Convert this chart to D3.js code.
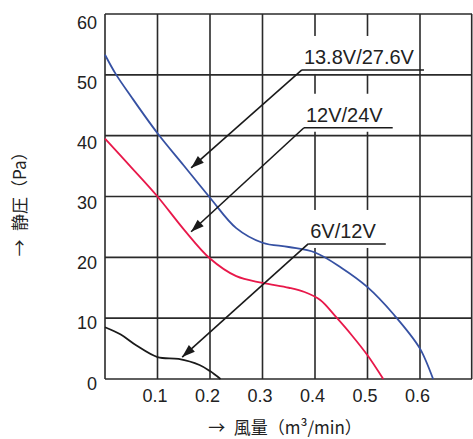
<!DOCTYPE html>
<html><head><meta charset="utf-8">
<script src="https://cdn.jsdelivr.net/npm/d3@7/dist/d3.min.js"></script>
<style>
html,body{margin:0;padding:0;background:#fff;}
svg{display:block;}
text{font-family:"Liberation Sans",Arial,sans-serif;fill:#222;}
.cjk{font-family:"Noto Sans CJK JP",sans-serif;}
</style></head>
<body><svg id="c" width="473" height="439"></svg>
<script>
// ---- data ----
const xTicks = [0.1, 0.2, 0.3, 0.4, 0.5, 0.6];
const xTickLabels = ["0.1", "0.2", "0.3", "0.4", "0.5", "0.6"];
const yTicks = [0, 10, 20, 30, 40, 50, 60];
const yTickLabels = ["0", "10", "20", "30", "40", "50", "60"];
const seriesNames = ["13.8V/27.6V", "12V/24V", "6V/12V"];
const flow138 = [0, 0.02, 0.05, 0.10, 0.15, 0.20, 0.25, 0.30, 0.35, 0.40, 0.45, 0.50, 0.55, 0.60, 0.625];
const pres138 = [53.3, 50.2, 46.4, 40.4, 35.1, 29.8, 24.8, 22.4, 21.7, 20.8, 18.3, 15.1, 10.6, 5.0, 0];
const flow12 = [0, 0.05, 0.10, 0.15, 0.20, 0.25, 0.30, 0.35, 0.38, 0.41, 0.44, 0.47, 0.50, 0.53];
const pres12 = [39.5, 34.8, 30.0, 24.6, 19.8, 16.9, 15.8, 15.0, 14.3, 13.0, 10.2, 7.2, 3.9, 0];
const flow6 = [0, 0.03, 0.06, 0.10, 0.14, 0.18, 0.20, 0.22];
const pres6 = [8.5, 7.3, 5.5, 3.6, 3.3, 2.3, 1.3, 0];
// annotation arrow tips and leader corners (data units)
const tipFlow = [0.164, 0.164, 0.147];
const tipPres = [34.7, 24.2, 3.6];
const cornerFlow = [0.375, 0.379, 0.387];
const cornerPres = [50.8, 41.3, 22.2];
const yTitle = "→\u2002静圧（Pa）";
const xTitle = "→\u2002風量（m³/min）";

// ---- drawing ----
const svg = d3.select("#c");
const x = d3.scaleLinear().domain([0, 0.7]).range([105, 472.5]);
const y = d3.scaleLinear().domain([0, 60]).range([379, 14]);

const grid = svg.append("g").attr("stroke", "#2a2a2a").attr("stroke-width", 1.6).attr("fill", "none");
xTicks.forEach(t => grid.append("line").attr("x1", x(t)).attr("x2", x(t)).attr("y1", y(0)).attr("y2", y(60)));
yTicks.forEach(t => grid.append("line").attr("x1", x(0)).attr("x2", x(0.7) - 0.5).attr("y1", y(t)).attr("y2", y(t)));
grid.append("line").attr("x1", x(0)).attr("x2", x(0)).attr("y1", y(0)).attr("y2", y(60));
grid.append("line").attr("x1", x(0.7) - 0.8).attr("x2", x(0.7) - 0.8).attr("y1", y(0)).attr("y2", y(60));

// tick labels
svg.append("g").selectAll("text").data(xTicks).join("text")
  .attr("x", d => x(d) - 2.5).attr("y", 402)
  .attr("text-anchor", "middle").attr("font-size", 18)
  .text((d, i) => xTickLabels[i]);
svg.append("g").selectAll("text").data(yTicks).join("text")
  .attr("x", 97).attr("y", d => y(d) + 4 + d * 0.075 + 6.5)
  .attr("text-anchor", "end").attr("font-size", 18)
  .text((d, i) => yTickLabels[i]);

// axis titles
svg.append("text").attr("class", "cjk")
  .attr("transform", "translate(26,200) rotate(-90)")
  .attr("text-anchor", "middle").attr("font-size", 17).text(yTitle);
svg.append("text").attr("class", "cjk")
  .attr("x", 285).attr("y", 434)
  .attr("text-anchor", "middle").attr("font-size", 17).text(xTitle);

// curves
const line = d3.line().x(d => x(d[0])).y(d => y(d[1])).curve(d3.curveCatmullRom.alpha(0.5));
const series = [
  {f: flow138, p: pres138, c: "#3651a3"},
  {f: flow12, p: pres12, c: "#e8184a"},
  {f: flow6, p: pres6, c: "#1a1a1a"}
];
series.forEach(s => {
  svg.append("path").datum(s.f.map((v, i) => [v, s.p[i]]))
    .attr("d", line).attr("fill", "none").attr("stroke", s.c).attr("stroke-width", 1.8);
});

// annotations
seriesNames.forEach((name, i) => {
  const cx = x(cornerFlow[i]), cy = y(cornerPres[i]);
  const tx = x(tipFlow[i]), ty = y(tipPres[i]);
  const g = svg.append("g");
  const bg = g.append("rect").attr("fill", "#fff");
  const t = g.append("text").attr("x", cx + 2).attr("y", cy - 6)
    .attr("font-size", 20).text(name);
  const w = t.node().getComputedTextLength();
  bg.attr("x", cx).attr("y", cy - 34).attr("width", w + 4).attr("height", 38);
  g.append("line").attr("x1", cx).attr("x2", cx + 2 + w + 10).attr("y1", cy).attr("y2", cy)
    .attr("stroke", "#1a1a1a").attr("stroke-width", 1.6);
  g.append("line").attr("x1", cx).attr("y1", cy).attr("x2", tx).attr("y2", ty)
    .attr("stroke", "#1a1a1a").attr("stroke-width", 1.6);
  // arrowhead
  const ang = Math.atan2(ty - cy, tx - cx);
  const L = 13, W = 4.5;
  const bx = tx - L * Math.cos(ang), by = ty - L * Math.sin(ang);
  const px = -Math.sin(ang) * W, py = Math.cos(ang) * W;
  g.append("path").attr("d", `M${tx},${ty}L${bx + px},${by + py}L${bx - px},${by - py}Z`)
    .attr("fill", "#1a1a1a");
});
</script></body></html>
